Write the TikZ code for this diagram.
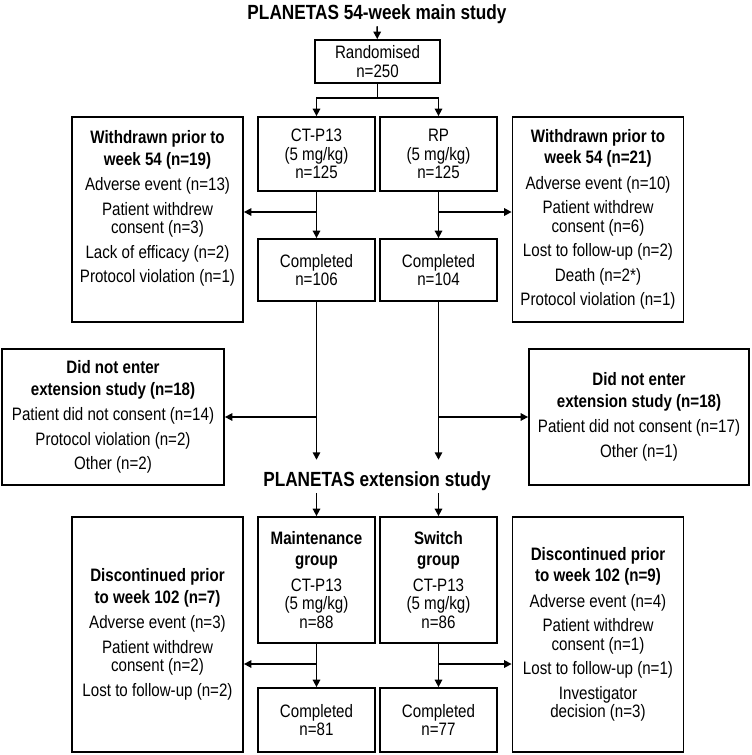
\documentclass[tikz,border=0pt]{standalone}
\usepackage{fontspec}
\setmainfont{Liberation Sans}[FakeStretch=0.84]
\usetikzlibrary{
  arrows.meta,
  calc,
  positioning,
}
\tikzstyle{box} = [
  draw,
  line width=1.8pt,
  align=center,
  inner sep=0pt,
  font=\fontsize{18}{18.5}\selectfont,
]
\tikzstyle{arm} = [box, minimum width=117pt]
\tikzstyle{side} = [box, minimum width=171pt]
\tikzstyle{heading} = [
  inner sep=2pt,
  font=\bfseries\fontsize{20.5}{20.5}\selectfont,
]
\tikzstyle{arrow} = [
  -{Triangle[length=7.5pt,width=7.5pt]},
  line width=1.6pt,
]

\begin{document}
\begin{tikzpicture}[x=1pt, y=-1pt]

        \useasboundingbox (0,0) rectangle (752,755);

        %% main study
        \node [heading] (main) at (377, 14.5) {PLANETAS 54-week main study};

        \node [box, minimum width=125pt, minimum height=43pt] (rand) at (377.5, 61.5)
          {Randomised\\n=250};

        \node [arm, minimum height=74pt] (ctp) at (316.5, 154) {CT-P13\\(5 mg/kg)\\n=125};
        \node [arm, minimum height=74pt] (rp) at (438.5, 154) {RP\\(5 mg/kg)\\n=125};

        \node [arm, minimum height=62pt] (cmpl) at (316.5, 270) {Completed\\n=106};
        \node [arm, minimum height=62pt] (cmpr) at (438.5, 270) {Completed\\n=104};

        \node [side, minimum height=205pt] (wdl) at (157.5, 219.5)
          {\textbf{Withdrawn prior to}\\[3pt]\textbf{week 54 (n=19)}\\[7pt]
           Adverse event (n=13)\\[6pt]
           Patient withdrew\\consent (n=3)\\[6pt]
           Lack of efficacy (n=2)\\[6pt]
           Protocol violation (n=1)\\[7pt]\mbox{}};
        \node [side, minimum height=205pt] (wdr) at (598, 219.5)
          {\textbf{Withdrawn prior to}\\[3pt]\textbf{week 54 (n=21)}\\[7pt]
           Adverse event (n=10)\\[6pt]
           Patient withdrew\\consent (n=6)\\[6pt]
           Lost to follow-up (n=2)\\[6pt]
           Death (n=2*)\\[6pt]
           Protocol violation (n=1)};

        \node [box, minimum width=222pt, minimum height=136pt] (dnel) at (113, 417)
          {\textbf{Did not enter}\\[3pt]\textbf{extension study (n=18)}\\[7pt]
           Patient did not consent (n=14)\\[6pt]
           Protocol violation (n=2)\\[6pt]
           Other (n=2)};
        \node [box, minimum width=220pt, minimum height=136pt] (dner) at (639, 417)
          {\textbf{Did not enter}\\[3pt]\textbf{extension study (n=18)}\\[7pt]
           Patient did not consent (n=17)\\[6pt]
           Other (n=1)};

        %% extension study
        \node [heading] (ext) at (377, 481.5) {PLANETAS extension study};

        \node [arm, minimum height=126pt] (mnt) at (316.5, 580)
          {\textbf{Maintenance}\\[3pt]\textbf{group}\\[7pt]CT-P13\\(5 mg/kg)\\n=88};
        \node [arm, minimum height=126pt] (swt) at (438.5, 580)
          {\textbf{Switch}\\[3pt]\textbf{group}\\[7pt]CT-P13\\(5 mg/kg)\\n=86};

        \node [arm, minimum height=64pt] (cmpl2) at (316.5, 720) {Completed\\n=81};
        \node [arm, minimum height=64pt] (cmpr2) at (438.5, 720) {Completed\\n=77};

        \node [side, minimum height=235pt] (dcl) at (157.5, 634.5)
          {\textbf{Discontinued prior}\\[3pt]\textbf{to week 102 (n=7)}\\[7pt]
           Adverse event (n=3)\\[6pt]
           Patient withdrew\\consent (n=2)\\[6pt]
           Lost to follow-up (n=2)};
        \node [side, minimum height=235pt] (dcr) at (598, 634.5)
          {\textbf{Discontinued prior}\\[3pt]\textbf{to week 102 (n=9)}\\[7pt]
           Adverse event (n=4)\\[6pt]
           Patient withdrew\\consent (n=1)\\[6pt]
           Lost to follow-up (n=1)\\[6pt]
           Investigator\\decision (n=3)};

        %% connectors
        \coordinate (split) at (377.5, 98);
        \coordinate (wl) at (316.5, 212);
        \coordinate (wr) at (438.5, 212);
        \coordinate (dl) at (316.5, 664);
        \coordinate (dr) at (438.5, 664);

        \draw [arrow] (main) -- (rand);
        \draw [arrow] (rand.south) -- (split) -| (ctp.north);
        \draw [arrow] (split) -| (rp.north);

        \draw [arrow] (ctp) -- (cmpl);
        \draw [arrow] (rp) -- (cmpr);
        \draw [arrow] (wl) -- (wl -| wdl.east);
        \draw [arrow] (wr) -- (wr -| wdr.west);

        \draw [arrow, shorten >=10pt] (cmpl.south) -- (cmpl.south |- ext.north);
        \draw [arrow, shorten >=10pt] (cmpr.south) -- (cmpr.south |- ext.north);
        \draw [arrow] (cmpl.south |- dnel.east) -- (dnel.east);
        \draw [arrow] (cmpr.south |- dner.west) -- (dner.west);

        \draw [arrow] (ext.south -| mnt.north) -- (mnt.north);
        \draw [arrow] (ext.south -| swt.north) -- (swt.north);

        \draw [arrow] (mnt) -- (cmpl2);
        \draw [arrow] (swt) -- (cmpr2);
        \draw [arrow] (dl) -- (dl -| dcl.east);
        \draw [arrow] (dr) -- (dr -| dcr.west);
      \end{tikzpicture}
\end{document}
